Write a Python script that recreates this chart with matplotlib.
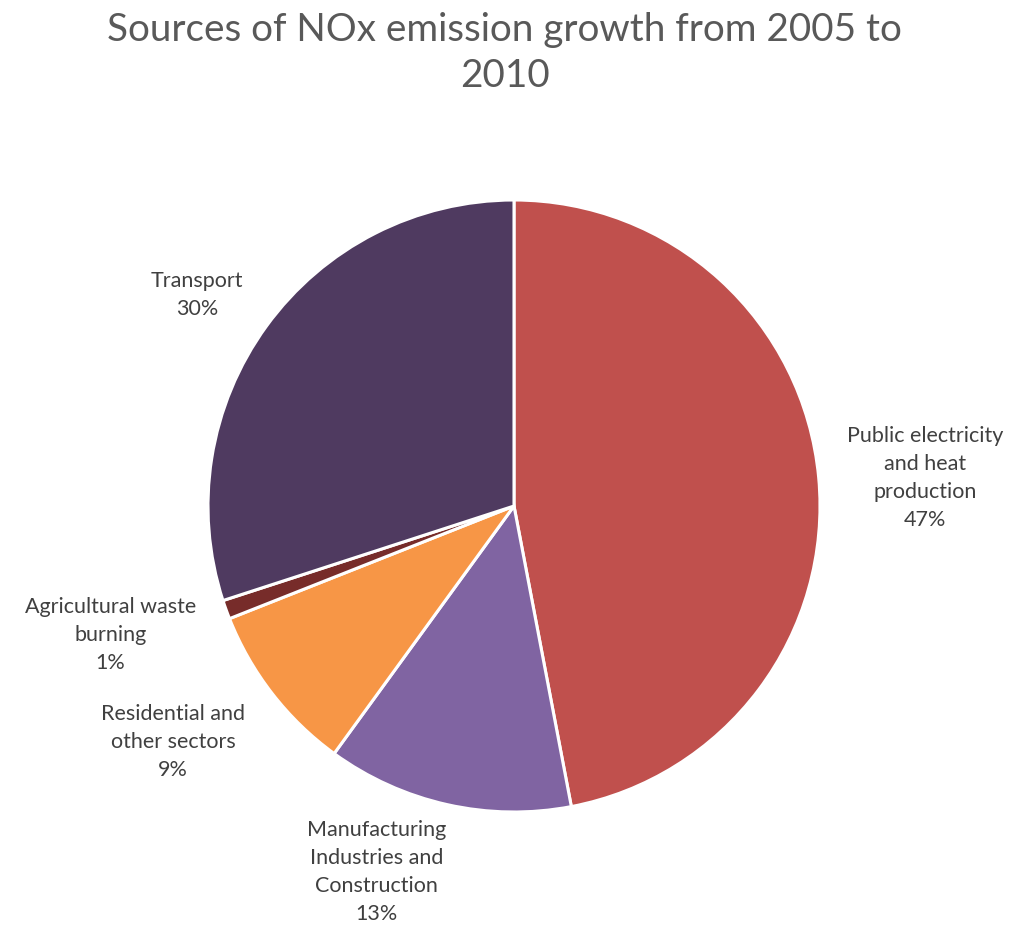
import numpy as np
import matplotlib
matplotlib.use("Agg")
import matplotlib.pyplot as plt

plt.rcParams['font.family'] = ['Lato', 'DejaVu Sans']

categories = [
    "Public electricity\nand heat\nproduction",
    "Manufacturing\nIndustries and\nConstruction",
    "Residential and\nother sectors",
    "Agricultural waste\nburning",
    "Transport",
]
shares = [47, 13, 9, 1, 30]
colors = ["#C0504D", "#8064A2", "#F79646", "#772C2A", "#4F3A60"]
title = "Sources of NOx emission growth from 2005 to\n2010"

# label placement per slice: radial distance and angular nudge (degrees)
label_dist = [1.346, 1.274, 1.353, 1.384, 1.247]
label_turn = [-1.4, -8.0, -3.2, -2.2, 2.2]

W, H = 1030, 928
fig = plt.figure(figsize=(W / 100, H / 100), dpi=100)
cx, cy, r = 514, 507, 306
ax = fig.add_axes([(cx - r) / W, (H - cy - r) / H, 2 * r / W, 2 * r / H])

wedges, _ = ax.pie(
    shares, colors=colors, startangle=90, counterclock=False,
    radius=1.0, wedgeprops=dict(edgecolor="white", linewidth=2.2),
)
ax.set_xlim(-1, 1)
ax.set_ylim(-1, 1)
ax.set_aspect("equal")
ax.axis("off")

for w, name, val, d, turn in zip(wedges, categories, shares, label_dist, label_turn):
    mid = np.deg2rad((w.theta1 + w.theta2) / 2 + turn)
    x, y = d * np.cos(mid), d * np.sin(mid)
    ax.text(x, y, f"{name}\n{val}%", ha="center", va="center", fontsize=15.5,
            color="#404040", linespacing=1.5, clip_on=False)

fig.text(0.49, 1 - 53 / H, title, ha="center", va="center", fontsize=27.8,
         color="#595959", linespacing=1.35)

fig.savefig("out.png", dpi=100, facecolor="white")
